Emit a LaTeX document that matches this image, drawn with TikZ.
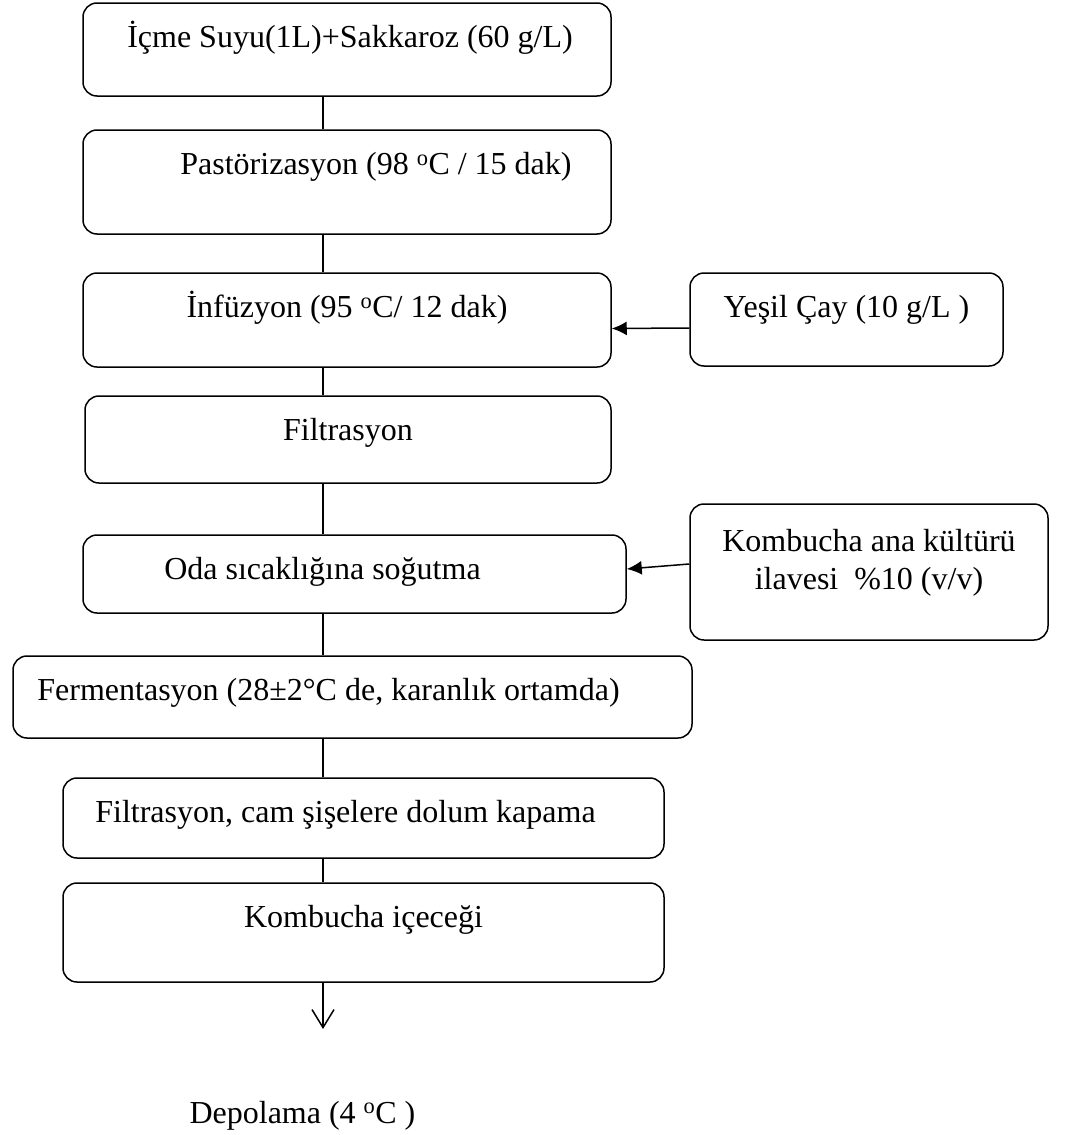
\documentclass[tikz,border=0pt]{standalone}
\usepackage{fontspec}
\setmainfont{Liberation Serif}
\usetikzlibrary{arrows.meta}

\begin{document}
\begin{tikzpicture}[x=1pt, y=-1pt,
    font=\fontsize{32}{38}\selectfont,
    kutu/.style={draw, line width=1.5pt, rounded corners=14pt, inner sep=0pt},
    yazi/.style={anchor=base, yshift=-45pt, align=center},
    ok/.style={line width=1.5pt, -{Latex[length=15pt,width=14pt]}}]
    \useasboundingbox (0,0) rectangle (1075,1135);

    \coordinate (eks) at (323, 0);
    \coordinate (son) at (323, 1029);

    \node [kutu, minimum width=528pt, minimum height=93pt,
      label={[yazi, xshift=3pt]north:{İçme Suyu(1L)+Sakkaroz (60 g/L)}}] (su) at (347, 49.5) {};
    \node [kutu, minimum width=528pt, minimum height=104pt,
      label={[yazi, xshift=29pt]north:{Pastörizasyon (98 \textsuperscript{o}C / 15 dak)}}] (past) at (347, 182) {};
    \node [kutu, minimum width=528pt, minimum height=94pt,
      label={[yazi]north:{İnfüzyon (95 \textsuperscript{o}C/ 12 dak)}}] (inf) at (347, 320) {};
    \node [kutu, minimum width=526pt, minimum height=87pt,
      label={[yazi]north:{Filtrasyon}}] (filt) at (348, 439.5) {};
    \node [kutu, minimum width=543pt, minimum height=78pt,
      label={[yazi, xshift=-32pt]north:{Oda sıcaklığına soğutma}}] (oda) at (354.5, 574) {};
    \node [kutu, minimum width=679pt, minimum height=82pt,
      label={[yazi, xshift=-24pt]north:{Fermentasyon (28±2°C de, karanlık ortamda)}}] (ferm) at (352.5, 697) {};
    \node [kutu, minimum width=601pt, minimum height=80pt,
      label={[yazi, xshift=-18pt]north:{Filtrasyon, cam şişelere dolum kapama}}] (dolum) at (363.5, 818) {};
    \node [kutu, minimum width=601pt, minimum height=99pt,
      label={[yazi]north:{Kombucha içeceği}}] (icecek) at (363.5, 932.5) {};

    \node [kutu, minimum width=313pt, minimum height=93pt,
      label={[yazi]north:{Yeşil Çay (10 g/L )}}] (cay) at (846.5, 319.5) {};
    \node [kutu, minimum width=358pt, minimum height=136pt,
      label={[yazi, yshift=-41pt]north:{Kombucha ana kültürü\\ilavesi\hspace{16pt}\%10 (v/v)}}] (kultur) at (869, 572) {};

    \node [anchor=base] (depo) at (302.5, 1123) {Depolama (4 \textsuperscript{o}C )};

    \draw [line width=1.5pt] (su.south -| eks) -- (past.north -| eks);
    \draw [line width=1.5pt] (past.south -| eks) -- (inf.north -| eks);
    \draw [line width=1.5pt] (inf.south -| eks) -- (filt.north -| eks);
    \draw [line width=1.5pt] (filt.south -| eks) -- (oda.north -| eks);
    \draw [line width=1.5pt] (oda.south -| eks) -- (ferm.north -| eks);
    \draw [line width=1.5pt] (ferm.south -| eks) -- (dolum.north -| eks);
    \draw [line width=1.5pt] (dolum.south -| eks) -- (icecek.north -| eks);
    \draw [line width=1.5pt, -{Straight Barb[length=18pt,width=22pt]}] (icecek.south -| eks) -- (son);

    \draw [ok] ([yshift=-8.5pt]cay.west) -- ([yshift=-8.5pt]inf.east);
    \draw [ok] ([yshift=8pt]kultur.west) -- ([yshift=5pt]oda.east);
\end{tikzpicture}
\end{document}
